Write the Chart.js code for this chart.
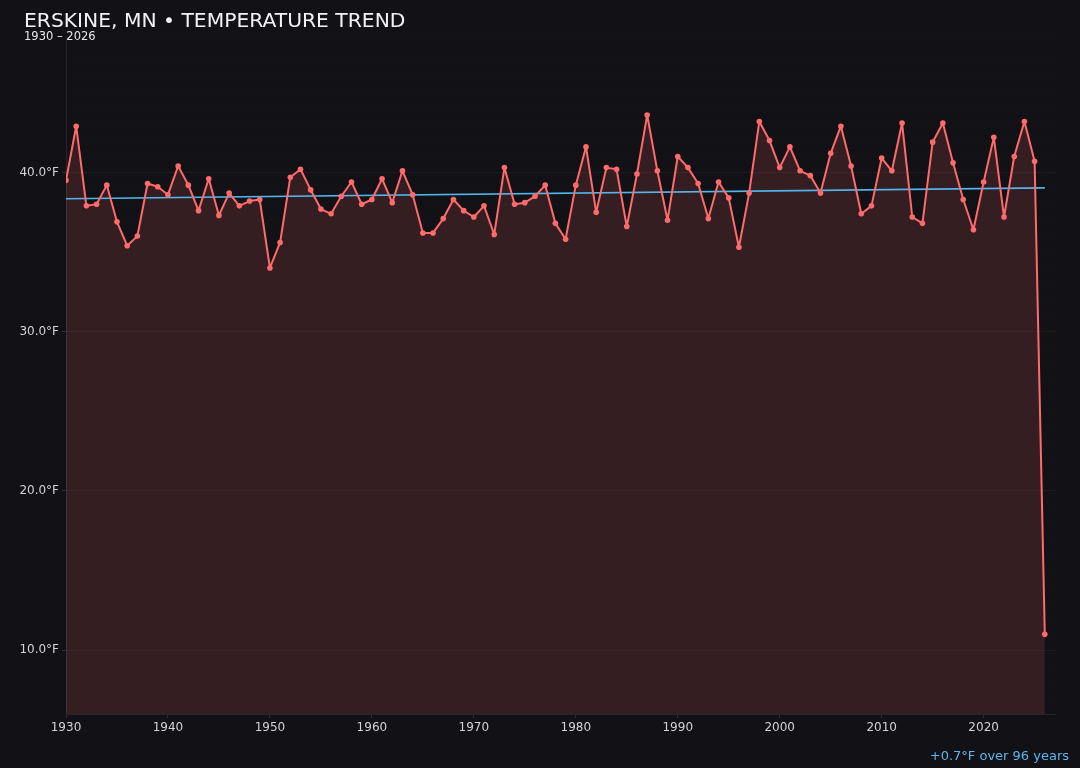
<!DOCTYPE html>
<html>
<head>
<meta charset="utf-8">
<script src="https://cdn.jsdelivr.net/npm/chart.js@4.4.1/dist/chart.umd.min.js"></script>
<style>
  html, body { margin: 0; padding: 0; background: #121116; }
  #wrap { position: relative; width: 1080px; height: 768px; overflow: hidden; background: #121116; }
  #c { position: absolute; left: 0; top: 0; }
  .t { position: absolute; font-family: "DejaVu Sans", sans-serif; white-space: nowrap; }
  #title { left: 24px; top: 8px; font-size: 20.3px; line-height: 24px; color: #f2f2f4; }
  #sub { left: 24px; top: 28.5px; font-size: 11.5px; line-height: 14px; color: #e6e6ea; }
  #note { right: 11px; top: 747.5px; font-size: 13px; line-height: 16px; color: #5cb6ec; }
</style>
</head>
<body>
<div id="wrap">
  <canvas id="c" width="1080" height="768"></canvas>
  <div class="t" id="title">ERSKINE, MN • TEMPERATURE TREND</div>
  <div class="t" id="sub">1930 – 2026</div>
  <div class="t" id="note">+0.7°F over 96 years</div>
</div>
<script>
const years = [];
for (let y = 1930; y <= 2026; y++) years.push(y);

const temps = [
  39.5, 42.9, 37.9, 38.0, 39.2, 36.9, 35.4, 36.0, 39.3, 39.1,
  38.6, 40.4, 39.2, 37.6, 39.6, 37.3, 38.7, 37.9, 38.2, 38.3,
  34.0, 35.6, 39.7, 40.2, 38.9, 37.7, 37.4, 38.5, 39.4, 38.0,
  38.3, 39.6, 38.1, 40.1, 38.6, 36.2, 36.2, 37.1, 38.3, 37.6,
  37.2, 37.9, 36.1, 40.3, 38.0, 38.1, 38.5, 39.2, 36.8, 35.8,
  39.2, 41.6, 37.5, 40.3, 40.2, 36.6, 39.9, 43.6, 40.1, 37.0,
  41.0, 40.3, 39.3, 37.1, 39.4, 38.4, 35.3, 38.7, 43.2, 42.0,
  40.3, 41.6, 40.1, 39.8, 38.7, 41.2, 42.9, 40.4, 37.4, 37.9,
  40.9, 40.1, 43.1, 37.2, 36.8, 41.9, 43.1, 40.6, 38.3, 36.4,
  39.4, 42.2, 37.2, 41.0, 43.2, 40.7, 11.0
];

const trendYears = [1930, 2026];
const trendTemps = [38.35, 39.03];

const yMin = 6, yMax = 48.5;
const xMin = 1930, xMax = 2027;

const tickColor = '#d2d2d7';

new Chart(document.getElementById('c'), {
  type: 'line',
  data: {
    datasets: [
      {
        label: 'Temperature',
        data: years.map((y, i) => ({ x: y, y: temps[i] })),
        borderColor: '#ff6b6b',
        backgroundColor: 'rgba(255,107,107,0.145)',
        pointBackgroundColor: '#ff6b6b',
        pointBorderWidth: 0,
        pointRadius: 2.8,
        borderWidth: 2,
        borderJoinStyle: 'round',
        tension: 0,
        fill: 'start',
        order: 0
      },
      {
        label: 'Trend',
        data: trendYears.map((y, i) => ({ x: y, y: trendTemps[i] })),
        borderColor: '#52b6ee',
        borderWidth: 1.6,
        pointRadius: 0,
        fill: false,
        tension: 0,
        order: 1
      }
    ]
  },
  options: {
    responsive: false,
    animation: false,
    devicePixelRatio: 1,
    layout: { padding: { left: 0, right: 25, top: 37, bottom: 0 } },
    plugins: {
      legend: { display: false },
      tooltip: { enabled: false },
      filler: { drawTime: 'beforeDatasetsDraw' }
    },
    scales: {
      x: {
        type: 'linear',
        min: xMin,
        max: xMax,
        afterFit: (s) => { s.height = 54; },
        ticks: {
          stepSize: 10,
          autoSkip: false,
          maxRotation: 0,
          color: tickColor,
          padding: 3,
          font: { family: 'DejaVu Sans', size: 12 },
          callback: (v) => (v % 10 === 0 ? String(v) : '')
        },
        grid: {
          drawOnChartArea: false,
          drawTicks: true,
          tickLength: 4,
          tickColor: (ctx) => (ctx.tick && ctx.tick.value % 10 === 0 ? 'rgba(255,255,255,0.12)' : 'rgba(0,0,0,0)')
        },
        border: { color: '#26252d', width: 1 }
      },
      y: {
        type: 'linear',
        min: yMin,
        max: yMax,
        afterFit: (s) => { s.width = 66; },
        ticks: {
          stepSize: 1,
          autoSkip: false,
          color: tickColor,
          padding: 3,
          font: { family: 'DejaVu Sans', size: 12 },
          callback: (v) => (v % 10 === 0 ? v.toFixed(1) + '°F' : '')
        },
        grid: {
          color: (ctx) => (ctx.tick && ctx.tick.value % 10 === 0 ? 'rgba(255,255,255,0.045)' : 'rgba(255,255,255,0.012)'),
          tickLength: 4,
          tickColor: (ctx) => (ctx.tick && ctx.tick.value % 10 === 0 ? 'rgba(255,255,255,0.12)' : 'rgba(0,0,0,0)')
        },
        border: { color: '#26252d', width: 1 }
      }
    }
  }
});
</script>
</body>
</html>
